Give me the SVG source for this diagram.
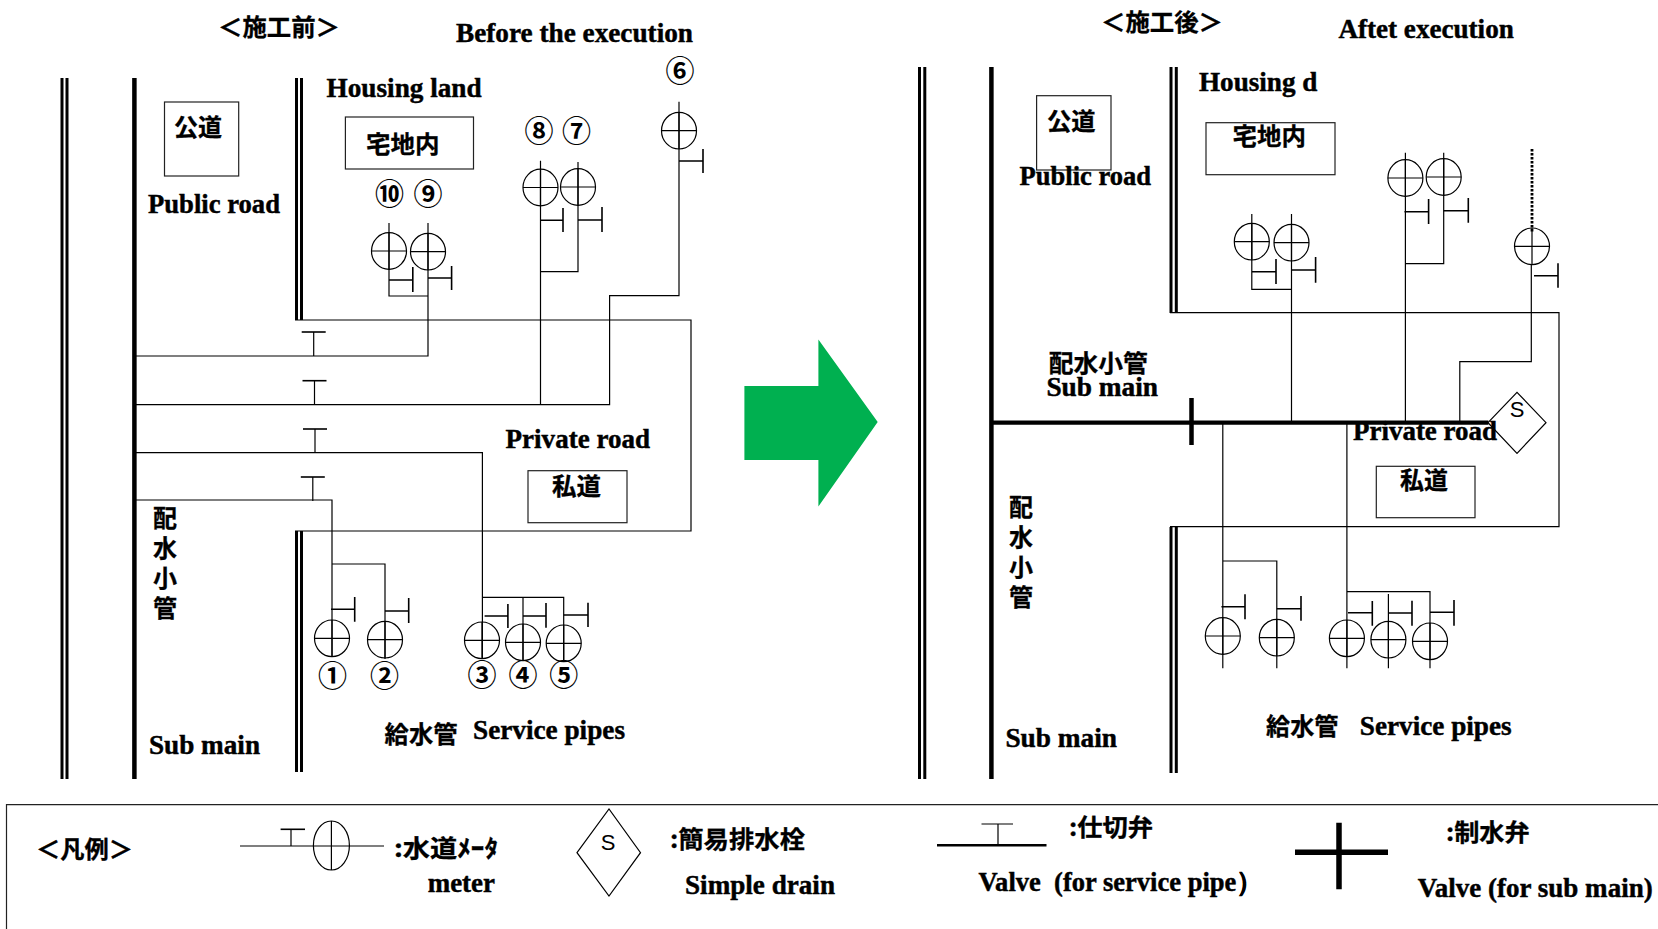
<svg xmlns="http://www.w3.org/2000/svg" width="1658" height="929" viewBox="0 0 1658 929">
<style>
.bg{fill:#fff}
.p{fill:none;stroke:#000;stroke-width:1.2}
.box{fill:none;stroke:#222;stroke-width:1.2}
.s{fill:none;stroke:#000;stroke-width:1.6}
.w{fill:none;stroke:#000;stroke-width:3}
.t{fill:none;stroke:#000;stroke-width:4.5}
.en{font:bold 26.5px "Liberation Serif",serif;fill:#000;stroke:#000;stroke-width:.45}
.ja{font:bold 24px "Noto Sans CJK JP",sans-serif;fill:#000;stroke:#000;stroke-width:.3}
.v{writing-mode:vertical-rl;letter-spacing:6px}
.n{font:bold 29px "Noto Sans CJK JP",sans-serif;fill:#000;text-anchor:middle}
.sl{font:22px "Liberation Sans",sans-serif;fill:#000;text-anchor:middle}
</style>
<defs>
<g id="m"><ellipse class="p" rx="17.5" ry="18.3" fill="none"/><path class="p" d="M-17.5 0H17.5M0-18.3V18.3"/></g>
<g id="tv"><path class="s" d="M-12 0H12"/><path class="p" d="M0 0V24"/></g>
</defs>
<rect class="bg" width="1658" height="929"/>

<g id="road-lines-before">
<path class="w" d="M62 78V779M67 78V779M296.500 78V320M301.500 78V320M296.500 531V772M301.500 531V772"/>
<path class="t" d="M134.400 78V779"/>
</g>
<g id="road-lines-after">
<path class="w" d="M919.500 67V779M924.800 67V779M1171 67V313M1176.300 67V313M1171 527V773M1176.300 527V773"/>
<path class="t" d="M991.400 67V779"/>
</g>

<g id="connectors">
<path class="p" d="M295 320H691V531H295"/>
<path class="p" d="M136 356H428V223M389 223V296H428"/>
<path class="p" d="M136 404.700H609.600V295.700H679V101.700"/>
<path class="p" d="M540.500 160.700V404.700M578 162V271.700H540.500"/>
<path class="p" d="M136 452.700H482.400V659"/>
<path class="p" d="M136 500H332V657M332 564H385V659"/>
<path class="p" d="M482 597.300H563.700V662M523 597.300V661"/>
<path class="p" d="M1170 312.700H1559V526.700H1170"/>
<path class="p" d="M1251.800 214V289.300H1291.500M1291.500 214V422.700"/>
<path class="p" d="M1405.400 152.700V422.700M1443.700 152.700V263.700H1405.400"/>
<path class="p" d="M1459.800 422.700V361.700H1531.300V264"/>
<path fill="none" stroke="#000" stroke-width="2.800" stroke-dasharray="2.500 1.500" d="M1532 149V232"/>
<path class="p" d="M1222.800 422.700V668.300M1222.800 561H1276.800V668.300"/>
<path class="p" d="M1346.900 422.700V668.300M1346.900 591.700H1430V668.300M1388.400 594V668.300"/>
<path fill="none" stroke="#000" stroke-width="4.300" d="M992 422.700H1488.400"/>
</g>

<g id="valves-before">
<use href="#tv" x="313.700" y="332"/>
<use href="#tv" x="314.500" y="380.700"/>
<use href="#tv" x="315" y="429"/>
<use href="#tv" x="312.800" y="477"/>
</g>
<g id="stubs-before">
<path class="s" d="M389 280H412.800M412.800 267V292M428 278H451.600M451.600 266V290"/>
<path class="s" d="M679 161H703M703 149V173"/>
<path class="s" d="M540.500 220.300H563M563 208V232M578 220H602M602 207V232"/>
<path class="s" d="M331 609.300H354.700M354.700 597V621.700M385 611H408.700M408.700 598V623"/>
<path class="s" d="M484.600 616H507.900M507.900 604V628M523 616H546M546 603V627.700M563.700 615H588M588 602.700V627"/>
</g>
<g id="stubs-after">
<path class="s" d="M1252 271.700H1276M1276 259V284M1291.500 270H1315.600M1315.600 257V282.700"/>
<path class="s" d="M1404.500 211.700H1428.600M1428.600 199V224M1443.700 210.700H1468.300M1468.300 198V222.700"/>
<path class="s" d="M1534 275.700H1558M1558 263.300V287.700"/>
<path class="s" d="M1221.400 606.700H1245M1245 594.300V619.300M1276.800 608.700H1301M1301 596V620.700"/>
<path class="s" d="M1348 612.700H1372.300M1372.300 601V625.700M1388.400 613H1412M1412 600.700V625.700M1430 612.300H1454M1454 600V625.700"/>
</g>

<g id="before-meters">
<g id="meter-b1"><use href="#m" x="332" y="638.300"/><text class="n" x="332.400" y="686.500">①</text></g>
<g id="meter-b2"><use href="#m" x="385" y="639.700"/><text class="n" x="384.600" y="686.500">②</text></g>
<g id="meter-b3"><use href="#m" x="482" y="640.300"/><text class="n" x="482" y="685.500">③</text></g>
<g id="meter-b4"><use href="#m" x="523" y="642.300"/><text class="n" x="523" y="685.500">④</text></g>
<g id="meter-b5"><use href="#m" x="563.700" y="643.300"/><text class="n" x="563.700" y="685.500">⑤</text></g>
<g id="meter-b6"><use href="#m" x="679" y="130.700"/><text class="n" x="680" y="81.500">⑥</text></g>
<g id="meter-b7"><use href="#m" x="578" y="187"/><text class="n" x="576.600" y="141.500">⑦</text></g>
<g id="meter-b8"><use href="#m" x="540.500" y="187.500"/><text class="n" x="539" y="141.500">⑧</text></g>
<g id="meter-b9"><use href="#m" x="428" y="251.700"/><text class="n" x="428" y="204.500">⑨</text></g>
<g id="meter-b10"><use href="#m" x="389" y="251"/><text class="n" x="389.500" y="204.500">⑩</text></g>
</g>

<g id="after-meters">
<g id="meter-a1"><use href="#m" x="1222.800" y="636"/></g>
<g id="meter-a2"><use href="#m" x="1276.800" y="637.700"/></g>
<g id="meter-a3"><use href="#m" x="1346.900" y="638.300"/></g>
<g id="meter-a4"><use href="#m" x="1388.400" y="639.700"/></g>
<g id="meter-a5"><use href="#m" x="1430" y="641.300"/></g>
<g id="meter-a6"><use href="#m" x="1532" y="246.300"/></g>
<g id="meter-a7"><use href="#m" x="1443.700" y="177"/></g>
<g id="meter-a8"><use href="#m" x="1405.400" y="178"/></g>
<g id="meter-a9"><use href="#m" x="1291.500" y="242.700"/></g>
<g id="meter-a10"><use href="#m" x="1251.800" y="241.700"/></g>
</g>

<g id="sub-main-valve"><path fill="none" stroke="#000" stroke-width="4.500" d="M1191.500 398V445"/></g>
<g id="drain"><path class="p" fill="#fff" d="M1488 422.700L1517 392.300L1546 422.700L1517 453.300Z"/><text class="sl" x="1517" y="417">S</text></g>

<g id="arrow"><polygon fill="#00b050" points="744.400,386 818.400,386 818.400,339.400 877.700,422 818.400,506.500 818.400,460 744.400,460"/></g>

<g id="labels-before">
<text class="ja" x="218" y="36" textLength="122" lengthAdjust="spacingAndGlyphs">＜施工前＞</text>
<text class="en" x="456" y="42" textLength="237" lengthAdjust="spacingAndGlyphs">Before the execution</text>
<g id="public-road-b"><rect class="box" x="164.500" y="102" width="74.200" height="74"/><text class="ja" x="174" y="136" textLength="48" lengthAdjust="spacingAndGlyphs">公道</text></g>
<text class="en" x="148" y="213" textLength="132" lengthAdjust="spacingAndGlyphs">Public road</text>
<text class="en" x="326.600" y="97" textLength="155" lengthAdjust="spacingAndGlyphs">Housing land</text>
<g id="housing-b"><rect class="box" x="345.400" y="117" width="128.100" height="52"/><text class="ja" x="366" y="153" textLength="73.500" lengthAdjust="spacingAndGlyphs">宅地内</text></g>
<text class="en" x="505.600" y="448" textLength="144.400" lengthAdjust="spacingAndGlyphs">Private road</text>
<g id="private-b"><rect class="box" x="528" y="470.700" width="99" height="52"/><text class="ja" x="552" y="495" textLength="49" lengthAdjust="spacingAndGlyphs">私道</text></g>
<text class="ja v" x="165" y="506">配水小管</text>
<text class="en" x="149" y="754" textLength="111" lengthAdjust="spacingAndGlyphs">Sub main</text>
<text class="ja" x="384.600" y="743" textLength="73" lengthAdjust="spacingAndGlyphs">給水管</text>
<text class="en" x="473" y="739.300" textLength="152" lengthAdjust="spacingAndGlyphs">Service pipes</text>
</g>

<g id="labels-after">
<text class="ja" x="1101" y="31" textLength="122" lengthAdjust="spacingAndGlyphs">＜施工後＞</text>
<text class="en" x="1338.400" y="37.700" textLength="175.400" lengthAdjust="spacingAndGlyphs">Aftet execution</text>
<g id="public-road-a"><rect class="box" x="1036.600" y="95.700" width="74.400" height="74.300"/><text class="ja" x="1047" y="130" textLength="48.500" lengthAdjust="spacingAndGlyphs">公道</text></g>
<text class="en" x="1019.600" y="185" textLength="131.400" lengthAdjust="spacingAndGlyphs">Public road</text>
<text class="en" x="1199" y="90.700" textLength="118.400" lengthAdjust="spacingAndGlyphs">Housing d</text>
<g id="housing-a"><rect class="box" x="1206" y="122.700" width="129" height="52"/><text class="ja" x="1232.600" y="145" textLength="73.400" lengthAdjust="spacingAndGlyphs">宅地内</text></g>
<text class="ja" x="1048.700" y="372" textLength="99" lengthAdjust="spacingAndGlyphs">配水小管</text>
<text class="en" x="1046.400" y="395.700" textLength="111.600" lengthAdjust="spacingAndGlyphs">Sub main</text>
<text class="en" x="1353" y="440" textLength="144" lengthAdjust="spacingAndGlyphs">Private road</text>
<g id="private-a"><rect class="box" x="1376.300" y="466.300" width="98.700" height="51.400"/><text class="ja" x="1400" y="489" textLength="48" lengthAdjust="spacingAndGlyphs">私道</text></g>
<text class="ja v" x="1021" y="495">配水小管</text>
<text class="en" x="1005.400" y="746.700" textLength="111.600" lengthAdjust="spacingAndGlyphs">Sub main</text>
<text class="ja" x="1266" y="734.500" textLength="72.400" lengthAdjust="spacingAndGlyphs">給水管</text>
<text class="en" x="1359.800" y="735" textLength="151.800" lengthAdjust="spacingAndGlyphs">Service pipes</text>
</g>

<g id="legend">
<path class="box" d="M1658 804.700H6.500V929"/>
<text class="ja" x="36" y="858" textLength="97" lengthAdjust="spacingAndGlyphs">＜凡例＞</text>
<g id="legend-meter">
<path class="p" d="M240 846H384M291 829.300V846M331.400 821V870"/>
<path class="s" d="M280.600 829.300H305"/>
<ellipse class="p" cx="331.400" cy="845.500" rx="18" ry="24.500"/>
<text class="ja" x="394" y="856.500" textLength="104" lengthAdjust="spacingAndGlyphs">:水道ﾒｰﾀ</text>
<text class="en" x="427.700" y="891.700" textLength="67.300" lengthAdjust="spacingAndGlyphs">meter</text>
</g>
<g id="legend-drain">
<path class="p" d="M577 852.700L609 809L640.500 852.700L609 896Z"/>
<text class="sl" x="608" y="850">S</text>
<text class="ja" x="670" y="847.500" textLength="135" lengthAdjust="spacingAndGlyphs">:簡易排水栓</text>
<text class="en" x="685" y="894" textLength="150" lengthAdjust="spacingAndGlyphs">Simple drain</text>
</g>
<g id="legend-valve">
<path fill="none" stroke="#000" stroke-width="2.500" d="M937 845.300H1046.500"/>
<path class="p" d="M998 824V845M981.500 824H1013"/>
<text class="ja" x="1069" y="835.500" textLength="84" lengthAdjust="spacingAndGlyphs">:仕切弁</text>
<text class="en" x="978.400" y="891" textLength="285" lengthAdjust="spacingAndGlyphs" xml:space="preserve">Valve  (for service pipe）</text>
</g>
<g id="legend-main-valve">
<path fill="none" stroke="#000" stroke-width="5.500" d="M1295 852.300H1388M1339 822.700V889.300"/>
<text class="ja" x="1446" y="841" textLength="83.600" lengthAdjust="spacingAndGlyphs">:制水弁</text>
<text class="en" x="1417.700" y="896.500" textLength="235" lengthAdjust="spacingAndGlyphs">Valve (for sub main)</text>
</g>
</g>
</svg>
